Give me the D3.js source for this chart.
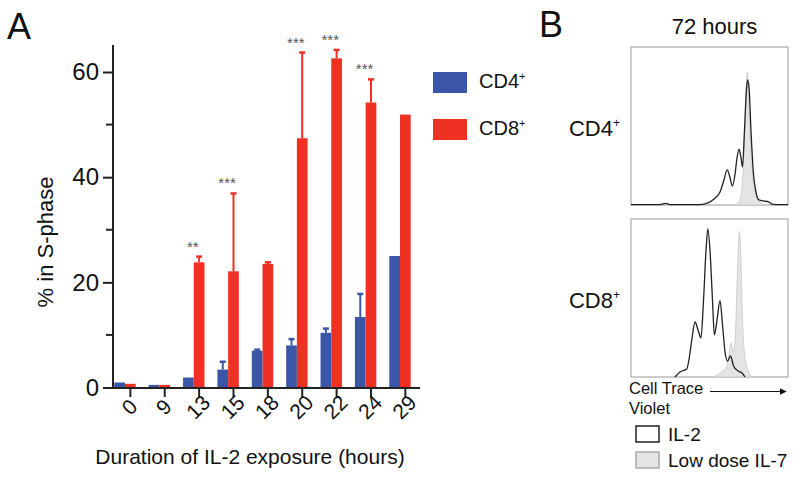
<!DOCTYPE html>
<html>
<head>
<meta charset="utf-8">
<script src="https://cdn.jsdelivr.net/npm/d3@7"></script>
<style>
  html, body { margin: 0; padding: 0; background: #fff; }
  svg { display: block; font-family: "Liberation Sans", Arial, Helvetica, sans-serif; }
</style>
</head>
<body>
<svg id="chart" width="800" height="477"></svg>
<script>
// ---------- Panel A data ----------
const categories = ["0", "9", "13", "15", "18", "20", "22", "24", "29"];
const cd4Values  = [0.95, 0.5, 1.9, 3.4, 7.0, 8.0, 10.4, 13.4, 25.0];
const cd4ErrTop  = [null, null, null, 4.9, 7.2, 9.2, 11.2, 17.8, null];
const cd8Values  = [0.7, 0.5, 23.8, 22.1, 23.5, 47.4, 62.6, 54.2, 51.9];
const cd8ErrTop  = [null, null, 24.9, 36.9, 23.8, 63.7, 64.2, 58.6, null];
const significance = ["", "", "**", "***", "", "***", "***", "***", ""];
const yMajorTicks = [0, 20, 40, 60];
const yMinorTicks = [10, 30, 50];
const seriesNames = ["CD4", "CD8"];

// ---------- Panel B data (histograms: [intensity %, count % of max]) ----------
const cd4IL2 = [[0,0.3],[18.5,0.3],[22.3,1],[24.8,0.3],[43.9,0.3],[49,1.3],[52.9,3.8],[56.7,8.2],[59.2,15.8],[61.3,22.2],[63.1,17.1],[64.5,12],[66.2,19],[67.5,29.7],[68.8,35.3],[70.1,29.7],[71,24],[72.3,47.5],[73.6,74],[74.3,79.1],[75.2,74],[76.4,47.5],[77.9,20.9],[79.6,8.2],[81.5,3.2],[84.7,2.5],[87.3,2.2],[89.8,0.6],[92.4,0.3],[100,0.3]];
const cd4IL7 = [[65,0],[68.2,1.3],[70.1,6.3],[71.3,19],[72.6,53.8],[74.1,84.2],[75.2,60],[76.4,34.8],[77.7,15.8],[79.6,5.7],[82.2,1.9],[86,0]];
const cd8IL2 = [[28,0],[31.2,3.2],[35.5,5.1],[36.9,10.8],[38.7,23.4],[40.8,34.8],[42.7,29.7],[44.6,24.7],[46.2,48.7],[47.8,80.4],[48.9,93.7],[50.3,80.4],[51.9,48.7],[53.1,26.6],[54.8,36.1],[56.7,48.4],[58.3,32.9],[59.9,15.8],[61.5,10.1],[63.4,13.3],[65.3,7],[68.2,3.8],[70.7,2.5],[72.6,0]];
const cd8IL7 = [[52.9,0],[56.7,2.5],[60.5,5.7],[62.4,13.9],[63.7,21.5],[65.3,15.8],[66.6,29.7],[67.8,67.7],[69,92.4],[70.1,70.9],[71.3,29.7],[72.9,10.8],[74.5,4.4],[77.1,0]];
const histLegend = ["IL-2", "Low dose IL-7"];

const BLUE = "#3B56A7", RED = "#EE3123", AXIS = "#222";
const svg = d3.select("#chart");

// ---------- Panel A ----------
const y = d3.scaleLinear().domain([0, 60]).range([387.5, 72]);
const x = d3.scaleBand().domain(categories).range([114.3, 410.7]).paddingInner(0.377).paddingOuter(0);
const bw = x.bandwidth() / 2;
const tickX = c => x(c) + bw * 1.5;

const gA = svg.append("g");

// bars
const rows = categories.map((c, i) => ({c, i}));
gA.selectAll("rect.cd4").data(rows).join("rect")
  .attr("x", d => x(d.c)).attr("width", bw)
  .attr("y", d => y(cd4Values[d.i])).attr("height", d => y(0) - y(cd4Values[d.i]))
  .attr("fill", BLUE);
gA.selectAll("rect.cd8").data(rows).join("rect")
  .attr("x", d => x(d.c) + bw).attr("width", bw)
  .attr("y", d => y(cd8Values[d.i])).attr("height", d => y(0) - y(cd8Values[d.i]))
  .attr("fill", RED);

// error bars
function errBars(errArr, valArr, offset, color) {
  const data = rows.filter(d => errArr[d.i] != null);
  const g = gA.append("g").attr("stroke", color).attr("stroke-width", 2);
  g.selectAll("line.v").data(data).join("line")
    .attr("x1", d => x(d.c) + offset).attr("x2", d => x(d.c) + offset)
    .attr("y1", d => y(valArr[d.i])).attr("y2", d => y(errArr[d.i]));
  g.selectAll("line.h").data(data).join("line")
    .attr("x1", d => x(d.c) + offset - 3).attr("x2", d => x(d.c) + offset + 3)
    .attr("y1", d => y(errArr[d.i])).attr("y2", d => y(errArr[d.i]))
    .attr("stroke-width", 2.5);
}
errBars(cd4ErrTop, cd4Values, bw / 2, BLUE);
errBars(cd8ErrTop, cd8Values, bw * 1.5, RED);

// significance stars
gA.selectAll("text.sig").data(rows.filter(d => significance[d.i])).join("text")
  .attr("x", d => x(d.c) + bw - 1)
  .attr("y", d => y(Math.max(cd8ErrTop[d.i] ?? cd8Values[d.i], cd4ErrTop[d.i] ?? 0)) - 5)
  .attr("text-anchor", "middle").attr("font-size", 15).attr("fill", "#555")
  .text(d => significance[d.i]);

// y axis
const yAxis = gA.append("g").attr("transform", "translate(113,0)");
yAxis.call(d3.axisLeft(y).tickValues(yMajorTicks).tickSize(10).tickSizeOuter(0).tickPadding(4));
yAxis.select(".domain").remove();
yAxis.selectAll(".tick line").attr("stroke", AXIS).attr("stroke-width", 2);
yAxis.selectAll(".tick text").attr("font-size", 24).attr("fill", "#111").attr("font-family", null);
yAxis.append("g").selectAll("line").data(yMinorTicks).join("line")
  .attr("x1", -7).attr("x2", 0).attr("y1", d => y(d)).attr("y2", d => y(d))
  .attr("stroke", AXIS).attr("stroke-width", 2);
yAxis.append("line").attr("x1", 0).attr("x2", 0).attr("y1", 45).attr("y2", 388.5)
  .attr("stroke", AXIS).attr("stroke-width", 2);

// x axis
const xAxis = gA.append("g").attr("transform", "translate(0,388)");
xAxis.append("line").attr("x1", 104).attr("x2", 420).attr("y1", 0).attr("y2", 0)
  .attr("stroke", AXIS).attr("stroke-width", 2);
xAxis.selectAll("line.t").data(categories).join("line")
  .attr("x1", tickX).attr("x2", tickX).attr("y1", 0).attr("y2", 9)
  .attr("stroke", AXIS).attr("stroke-width", 2);
xAxis.selectAll("text").data(categories).join("text")
  .attr("transform", c => `translate(${tickX(c) - 1},${19}) rotate(-45)`)
  .attr("text-anchor", "middle").attr("dy", "0.35em")
  .attr("font-size", 21).attr("fill", "#111")
  .text(c => c);

// axis titles
gA.append("text").attr("transform", "translate(45,242) rotate(-90)")
  .attr("text-anchor", "middle").attr("dy", "0.35em").attr("font-size", 22).attr("fill", "#111")
  .text("% in S-phase");
gA.append("text").attr("x", 250).attr("y", 464)
  .attr("text-anchor", "middle").attr("font-size", 21).attr("fill", "#111")
  .text("Duration of IL-2 exposure (hours)");

// legend
const legColors = [BLUE, RED];
const leg = gA.selectAll("g.leg").data(seriesNames).join("g")
  .attr("transform", (d, i) => `translate(433,${72 + i * 47})`);
leg.append("rect").attr("width", 34).attr("height", 21).attr("fill", (d, i) => legColors[i]);
const lt = leg.append("text").attr("x", 46).attr("y", 15.5).attr("font-size", 20).attr("fill", "#111");
lt.append("tspan").text(d => d);
lt.append("tspan").attr("font-size", 11).attr("dy", -8).text("+");

// panel letters
svg.append("text").attr("x", 7).attr("y", 39).attr("font-size", 36).attr("fill", "#111").text("A");
svg.append("text").attr("x", 539).attr("y", 37).attr("font-size", 36).attr("fill", "#111").text("B");

// ---------- Panel B ----------
svg.append("text").attr("x", 714.5).attr("y", 34).attr("text-anchor", "middle")
  .attr("font-size", 22).attr("fill", "#111").text("72 hours");

function histogram(top, il2, il7, label) {
  const left = 631, width = 157, height = 158;
  const hx = d3.scaleLinear().domain([0, 100]).range([left, left + width]);
  const hy = d3.scaleLinear().domain([0, 100]).range([top + height, top]);
  const g = svg.append("g");
  g.append("rect").attr("x", left).attr("y", top).attr("width", width).attr("height", height)
    .attr("fill", "#fff").attr("stroke", "#999").attr("stroke-width", 1);
  const area = d3.area().x(d => hx(d[0])).y0(hy(0)).y1(d => hy(d[1])).curve(d3.curveMonotoneX);
  const line = d3.line().x(d => hx(d[0])).y(d => hy(d[1])).curve(d3.curveMonotoneX);
  g.append("path").attr("d", area(il7)).attr("fill", "#e4e4e4").attr("stroke", "#c8c8c8").attr("stroke-width", 0.8);
  g.append("path").attr("d", line(il2)).attr("fill", "none").attr("stroke", "#222").attr("stroke-width", 1.3);
  const t = g.append("text").attr("x", 620).attr("y", top + 89).attr("text-anchor", "end")
    .attr("font-size", 22).attr("fill", "#111");
  t.append("tspan").text(label);
  t.append("tspan").attr("font-size", 12).attr("dy", -9).text("+");
}
histogram(47, cd4IL2, cd4IL7, "CD4");
histogram(219, cd8IL2, cd8IL7, "CD8");

// axis label with arrow
svg.append("defs").append("marker").attr("id", "arr").attr("viewBox", "0 0 10 10")
  .attr("refX", 9).attr("refY", 5).attr("markerWidth", 6).attr("markerHeight", 6)
  .attr("orient", "auto").append("path").attr("d", "M0,0 L10,5 L0,10 z").attr("fill", "#111");
svg.append("text").attr("x", 629).attr("y", 394).attr("font-size", 16.5).attr("fill", "#111").text("Cell Trace");
svg.append("text").attr("x", 629).attr("y", 414).attr("font-size", 16.5).attr("fill", "#111").text("Violet");
svg.append("line").attr("x1", 710).attr("x2", 786).attr("y1", 391.5).attr("y2", 391.5)
  .attr("stroke", "#111").attr("stroke-width", 1.2).attr("marker-end", "url(#arr)");

// histogram legend
const hl = svg.selectAll("g.hl").data(histLegend).join("g")
  .attr("transform", (d, i) => `translate(636,${426 + i * 26})`);
hl.append("rect").attr("width", 23).attr("height", 16)
  .attr("fill", (d, i) => i === 0 ? "#fff" : "#e4e4e4")
  .attr("stroke", (d, i) => i === 0 ? "#222" : "#aaa").attr("stroke-width", 1.5);
hl.append("text").attr("x", 32).attr("y", 15).attr("font-size", 19).attr("fill", "#111").text(d => d);
</script>
</body>
</html>
